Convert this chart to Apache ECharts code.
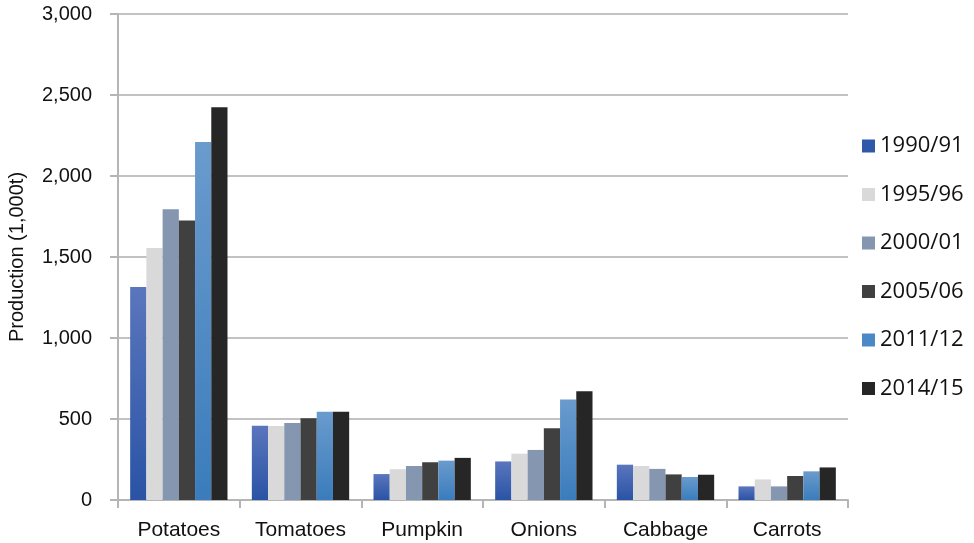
<!DOCTYPE html>
<html>
<head>
<meta charset="utf-8">
<script src="https://cdn.jsdelivr.net/npm/echarts@6/dist/echarts.min.js"></script>
<style>
  html, body { margin: 0; padding: 0; background: #fff; }
  #chart { width: 974px; height: 543px; }
</style>
</head>
<body>
<div id="chart"></div>
<script>
// Vegetable production by crop, thousand tonnes
const categories = ['Potatoes', 'Tomatoes', 'Pumpkin', 'Onions', 'Cabbage', 'Carrots'];
const seasons = ['1990/91', '1995/96', '2000/01', '2005/06', '2011/12', '2014/15'];

const v1990 = [1315, 458, 160, 238, 218, 84];
const v1995 = [1555, 457, 190, 286, 210, 127];
const v2000 = [1795, 476, 210, 309, 192, 84];
const v2005 = [1725, 505, 233, 443, 158, 148];
const v2011 = [2210, 545, 243, 621, 142, 177];
const v2014 = [2425, 545, 260, 672, 156, 201];

const seriesValues = [v1990, v1995, v2000, v2005, v2011, v2014];

const yTicks = { min: 0, max: 3000, step: 500 };

function vgrad(top, bottom) {
  return new echarts.graphic.LinearGradient(0, 0, 0, 1, [
    { offset: 0, color: top },
    { offset: 1, color: bottom }
  ]);
}

const fills = [
  vgrad('#5a76bd', '#2a53a5'),
  '#d9d9d9',
  '#8496b0',
  '#404040',
  vgrad('#6a9bcd', '#3a7cbc'),
  '#262626'
];
const legendSwatch = ['#2f58a8', '#d9d9d9', '#8496b0', '#404040', '#4a89c5', '#262626'];

const chart = echarts.init(document.getElementById('chart'), null, { renderer: 'canvas' });

chart.setOption({
  animation: false,
  backgroundColor: '#ffffff',
  grid: { left: 118, top: 14, right: 126, bottom: 43, containLabel: false, outerBoundsMode: 'none' },
  legend: {
    orient: 'vertical',
    left: 857,
    top: 129,
    itemWidth: 13,
    itemHeight: 13,
    itemGap: 24.5,
    icon: 'rect',
    textStyle: { fontFamily: 'Open Sans', fontSize: 22, color: '#111', lineHeight: 24 },
    data: seasons.map((s, i) => ({ name: s, itemStyle: { color: legendSwatch[i] } }))
  },
  xAxis: {
    type: 'category',
    data: categories,
    axisLine: { show: true, lineStyle: { color: '#b5b5b5', width: 2 } },
    axisTick: { show: true, length: 8, alignWithLabel: false, lineStyle: { color: '#b5b5b5', width: 2 } },
    axisLabel: { margin: 20, fontFamily: 'Liberation Sans', fontSize: 21, color: '#111' },
    splitLine: { show: false }
  },
  yAxis: {
    type: 'value',
    min: yTicks.min,
    max: yTicks.max,
    interval: yTicks.step,
    name: 'Production (1,000t)',
    nameLocation: 'middle',
    nameGap: 91,
    nameRotate: 90,
    nameTextStyle: { fontFamily: 'Liberation Sans', fontSize: 20, color: '#111' },
    axisLine: { show: true, lineStyle: { color: '#b5b5b5', width: 2 } },
    axisTick: { show: true, length: 8, lineStyle: { color: '#b5b5b5', width: 2 } },
    axisLabel: {
      margin: 26,
      fontFamily: 'Liberation Sans',
      fontSize: 20,
      color: '#111',
      formatter: v => v.toLocaleString('en-US')
    },
    splitLine: { show: true, lineStyle: { color: '#c2c2c2', width: 2 } }
  },
  series: seasons.map((s, i) => ({
    name: s,
    type: 'bar',
    data: seriesValues[i],
    barGap: '0%',
    barCategoryGap: '20%',
    itemStyle: { color: fills[i] }
  }))
});
</script>
</body>
</html>
